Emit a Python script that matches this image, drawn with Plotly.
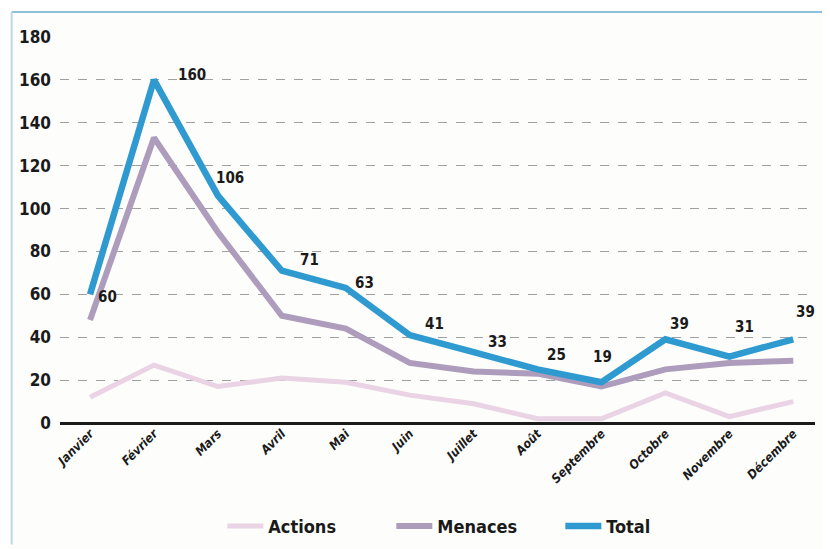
import plotly.graph_objects as go

months = ["Janvier", "Février", "Mars", "Avril", "Mai", "Juin", "Juillet",
          "Août", "Septembre", "Octobre", "Novembre", "Décembre"]
actions = [12, 27, 17, 21, 19, 13, 9, 2, 2, 14, 3, 10]
menaces = [48, 133, 89, 50, 44, 28, 24, 23, 17, 25, 28, 29]
total = [60, 160, 106, 71, 63, 41, 33, 25, 19, 39, 31, 39]
y_ticks = [0, 20, 40, 60, 80, 100, 120, 140, 160, 180]

# label offsets (pixels) for the Total value labels
label_dx = [17, 38, 12, 28, 19, 25, 24, 19, 1, 14, 15, 12]
label_dy = [-3, 5, 18, 11, 5, 11, 10, 14, 25, 15, 30, 27]

x_idx = list(range(len(months)))
narrow = "DejaVu Sans Condensed, Liberation Sans Narrow, sans-serif"

fig = go.Figure()
fig.add_trace(go.Scatter(x=x_idx, y=actions, mode="lines", name="<b>Actions</b>",
                         line=dict(color="#ead3e4", width=5)))
fig.add_trace(go.Scatter(x=x_idx, y=menaces, mode="lines", name="<b>Menaces</b>",
                         line=dict(color="#ae9cbd", width=6)))
fig.add_trace(go.Scatter(x=x_idx, y=total, mode="lines", name="<b>Total</b>",
                         line=dict(color="#2f9ad0", width=6.5)))

for i, v in enumerate(total):
    fig.add_annotation(x=x_idx[i], y=v, text="<b>" + str(v) + "</b>", showarrow=False,
                       xshift=label_dx[i], yshift=label_dy[i],
                       font=dict(family=narrow, size=15, color="#1a1a1a"))

fig.update_layout(
    width=830, height=549,
    margin=dict(l=52, r=23, t=29, b=134, autoexpand=False),
    paper_bgcolor="#fdfdfb", plot_bgcolor="#fdfdfb",
    showlegend=True,
    legend=dict(orientation="h", x=0.215, xanchor="left", y=-0.22, yanchor="top",
                font=dict(family=narrow, size=18, color="#1a1a1a"),
                entrywidth=118, entrywidthmode="pixels",
                itemwidth=36, traceorder="normal"),
    xaxis=dict(range=[-0.47, 11.34], tickmode="array", tickvals=x_idx,
               ticktext=["<b><i>" + m + "</i></b>" for m in months], tickangle=-45,
               showgrid=False, zeroline=False, showline=False, automargin=False,
               tickfont=dict(family=narrow, size=12.5, color="#1a1a1a")),
    yaxis=dict(range=[0, 180], tickmode="array", tickvals=y_ticks,
               ticktext=["<b>" + str(t) + "</b>" for t in y_ticks],
               showgrid=True, gridcolor="#a0a0a0", gridwidth=1, griddash="dash",
               zeroline=True, zerolinecolor="#1a1a1a", zerolinewidth=3,
               ticks="", ticklabelstandoff=8, automargin=False,
               tickfont=dict(family=narrow, size=17, color="#1a1a1a")),
)

# faint frame lines of the scanned chart
fig.add_shape(type="line", xref="paper", yref="paper", x0=-0.064, x1=1.03,
              y0=1.065, y1=1.065, line=dict(color="#8fc0da", width=2))
fig.add_shape(type="line", xref="paper", yref="paper", x0=-0.064, x1=-0.064,
              y0=1.065, y1=-0.315, line=dict(color="#bcd9e6", width=2))

fig.write_html("out.html")
